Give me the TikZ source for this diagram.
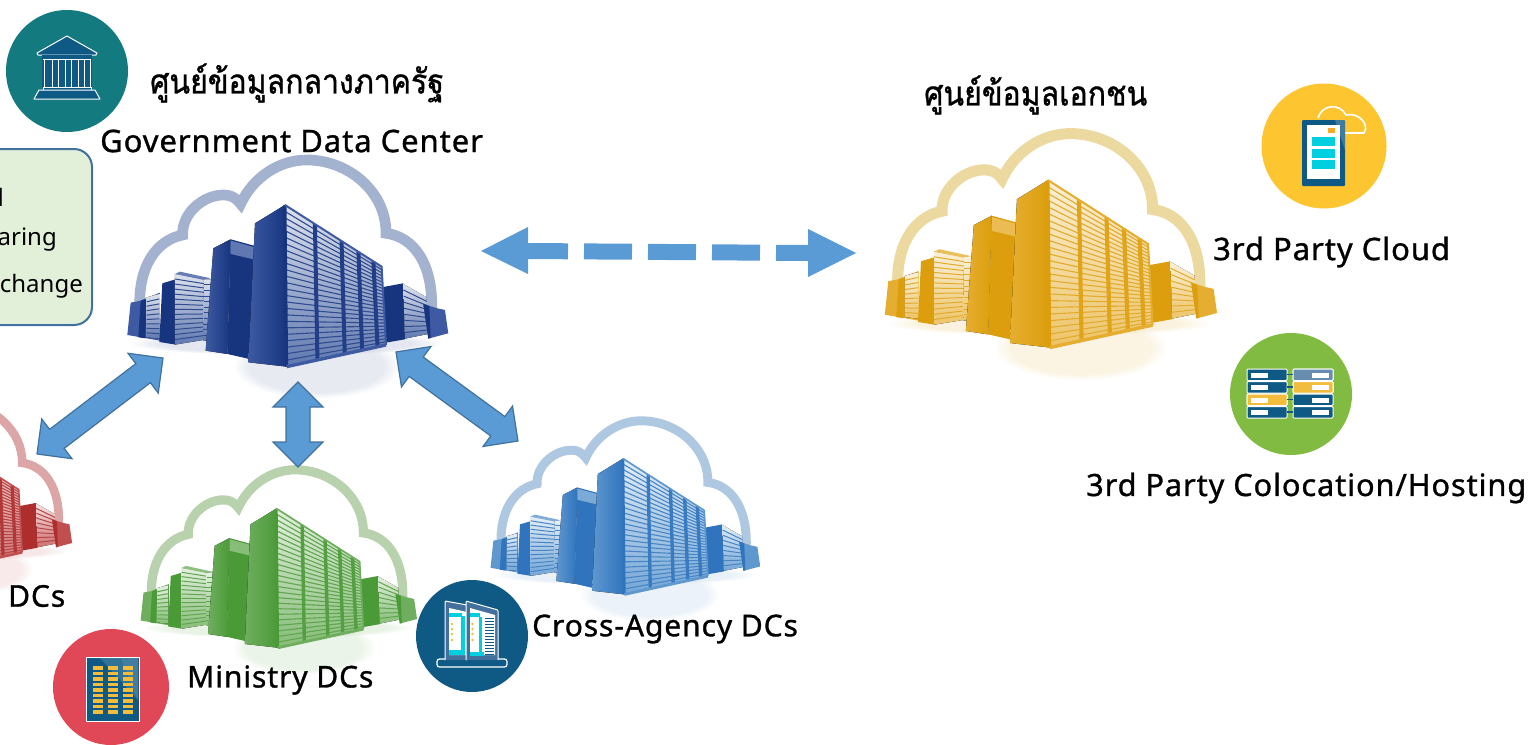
\documentclass[tikz,border=0pt]{standalone}
\usepackage{fontspec}
\usetikzlibrary{calc,fadings}
\setmainfont{Noto Sans}
\newfontfamily\thaifont[Script=Thai,FakeStretch=0.89,FakeBold=1]{Loma}
\newfontfamily\latinfont[FakeBold=1,LetterSpace=3]{Noto Sans}
\definecolor{arrowfill}{HTML}{5B9BD5}
\definecolor{arrowedge}{HTML}{41719C}
\definecolor{iconnavy}{HTML}{0E5A85}
\definecolor{iconyellow}{HTML}{F2BC3C}
\definecolor{iconcyan}{HTML}{00CFE0}
\definecolor{boxfill}{HTML}{E2EFD9}
\definecolor{gd}{HTML}{17347F}\definecolor{gm}{HTML}{3D5AA2}\definecolor{gl}{HTML}{C9D0E0}\definecolor{gr}{HTML}{A3B3CF}\definecolor{gf}{HTML}{5F78B0}
\definecolor{md}{HTML}{4A9A38}\definecolor{mm}{HTML}{6FAE5E}\definecolor{ml}{HTML}{D2E6CB}\definecolor{mr}{HTML}{B7D2AC}\definecolor{mf}{HTML}{86BD78}
\definecolor{cd}{HTML}{2F74BC}\definecolor{cm}{HTML}{5F97CF}\definecolor{cl}{HTML}{D2E2F1}\definecolor{cr}{HTML}{AFC8E1}\definecolor{cf}{HTML}{74A6D6}
\definecolor{od}{HTML}{DC9E0C}\definecolor{om}{HTML}{E6AE30}\definecolor{ol}{HTML}{F6E6BE}\definecolor{or}{HTML}{EBD9A0}\definecolor{of}{HTML}{EDC468}
\definecolor{rd}{HTML}{AE2D2D}\definecolor{rm}{HTML}{C04F4F}\definecolor{rl}{HTML}{EFD0D0}\definecolor{rr}{HTML}{DDA6A6}\definecolor{rf}{HTML}{CC7070}
\tikzset{
  lbl/.style={font=\latinfont\fontsize{#1}{#1}\selectfont,inner sep=0pt,text=black},
  boxtext/.style={font=\fontsize{24}{24}\selectfont,inner sep=0pt,text=black,anchor=east},
  thai/.style={font=\thaifont\fontsize{#1}{#1}\selectfont,inner sep=0pt,text=black},
  blockarrow/.style={fill=arrowfill,draw=arrowedge,line width=1.2pt,line join=miter},
  flatarrow/.style={fill=arrowfill,draw=none},
  dashshaft/.style={draw=arrowfill,line width=16pt,dash pattern=on 48pt off 16pt,dash phase=8pt},
  iconline/.style={draw=white,line width=1pt},
  badge/.style={circle,inner sep=0pt,minimum size=#1,draw=none},
}
\newcommand{\dblarrow}[2]{%
  \path ($(#1)!25pt!(#2)$) coordinate (na) ($(#2)!25pt!(#1)$) coordinate (nb);
  \draw[blockarrow] (#1)
    -- ($(na)!25pt!90:(#1)$) -- ($(na)!12pt!90:(#1)$)
    -- ($(nb)!12pt!-90:(#2)$) -- ($(nb)!25pt!-90:(#2)$)
    -- (#2)
    -- ($(nb)!25pt!90:(#2)$) -- ($(nb)!12pt!90:(#2)$)
    -- ($(na)!12pt!-90:(#1)$) -- ($(na)!25pt!-90:(#1)$) -- cycle;
}
\newcommand{\slatface}[6]{%
  \coordinate (sa) at #1; \coordinate (sb) at #2; \coordinate (sc) at #3; \coordinate (sd) at #4;
  \fill[top color=dcl!60!white,middle color=dcl!55!dcf,bottom color=dcf] (sa)--(sb)--(sc)--(sd)--cycle;
  \foreach \i in {1,...,#5}{
    \pgfmathsetmacro\tt{\i/(#5+1)}
    \draw[dcd!65!dcf,line width=#6pt] ($(sa)!\tt!(sd)$) -- ($(sb)!\tt!(sc)$);
  }
}
\newcommand{\datacenter}[8]{%
\colorlet{dcd}{#4}\colorlet{dcm}{#5}\colorlet{dcl}{#6}\colorlet{dcf}{#8}
\begin{scope}[shift={(#1,#2)},x=#3pt,y=-#3pt]
  \fill[dcl,opacity=.45,path fading=circle with fuzzy edge 20 percent] (950,1100) ellipse (250 and 95);
  \fill[dcl,opacity=.5,path fading=circle with fuzzy edge 20 percent] (860,1030) ellipse (470 and 36);
  \draw[draw=#7,line width=#3*32pt,line cap=butt]
    (420,930) .. controls (412,800) and (470,720) .. (548,705)
    .. controls (545,640) and (610,585) .. (670,585)
    .. controls (690,585) and (705,590) .. (722,612)
    .. controls (760,530) and (840,480) .. (920,480)
    .. controls (1050,480) and (1160,580) .. (1158,700)
    .. controls (1240,710) and (1300,790) .. (1295,930);
  \fill[dcm] (382,1005)--(392,908)--(418,903)--(480,878)--(480,1022)--cycle;
  \fill[dcd] (415,1012)--(422,903)--(440,897)--(436,1015)--cycle;
  \slatface{(440,892)}{(478,882)}{(478,1016)}{(440,1012)}{8}{1.0}
  \fill[dcd] (478,1026)--(487,850)--(527,838)--(527,1034)--cycle;
  \slatface{(525,822)}{(612,838)}{(610,1020)}{(525,1034)}{13}{1.0}
  \fill[dcm!70!dcl] (525,822)--(540,815)--(632,835)--(612,840)--cycle;
  \slatface{(612,838)}{(634,838)}{(626,1022)}{(610,1022)}{10}{0.8}
  \fill[dcd] (1145,862)--(1210,850)--(1215,1018)--(1158,1028)--cycle;
  \slatface{(1210,852)}{(1280,892)}{(1285,1002)}{(1215,1016)}{8}{1.0}
  \fill[dcm] (1270,912)--(1312,925)--(1335,930)--(1345,1000)--(1285,1016)--cycle;
  \fill[dcd] (1270,912)--(1288,918)--(1292,1014)--(1285,1016)--cycle;
  \fill[left color=dcm,right color=dcd] (617,1052)--(640,745)--(692,718)--(682,1062)--cycle;
  \fill[dcd] (692,718)--(765,738)--(752,1078)--(682,1062)--cycle;
  \fill[dcm!75!dcl] (692,722)--(764,742)--(760,778)--(692,762)--cycle;
  \fill[left color=dcm,right color=dcd] (745,1087)--(765,670)--(855,615)--(860,1100)--cycle;
  \slatface{(855,615)}{(1145,800)}{(1158,1035)}{(860,1100)}{24}{1.1}
  \coordinate (tl) at (855,615); \coordinate (tr) at (1145,800);
  \coordinate (bl) at (860,1100); \coordinate (br) at (1158,1035);
  \foreach \u in {0.31,0.585,0.76,0.915}{
    \draw[dcd!85!dcf,line width=#3*12pt] ($(tl)!\u!(tr)$) -- ($(bl)!\u!(br)$);
  }
  \draw[dcd,line width=#3*9pt] (tl) -- (bl);
  \draw[dcm,line width=#3*10pt] (bl) -- (br);
  \draw[dcm,line width=#3*6pt] (tl) -- (tr) -- (br);
\end{scope}
}
\begin{document}
\begin{tikzpicture}[x=1pt,y=-1pt]
\useasboundingbox (0,0) rectangle (1538,744);
\clip (0,0) rectangle (1538,744);
% data centres
\datacenter{0}{0}{0.3333}{gd}{gm}{gl}{gr}{gf}
\datacenter{753}{-32}{0.345}{od}{om}{ol}{or}{of}
\datacenter{31}{332}{0.287}{md}{mm}{ml}{mr}{mf}
\datacenter{383.6}{286.4}{0.28}{cd}{cm}{cl}{cr}{cf}
\datacenter{-287}{276}{0.267}{rd}{rm}{rl}{rr}{rf}
% block arrows
\coordinate (govred) at (163,358); \coordinate (redgov) at (37,454);
\coordinate (govmin) at (298,382); \coordinate (mingov) at (298,467);
\coordinate (govcross) at (396,352); \coordinate (crossgov) at (518,441);
\dblarrow{govred}{redgov}
\dblarrow{govmin}{mingov}
\dblarrow{govcross}{crossgov}
% dashed arrow
\coordinate (govneck) at (528,251); \coordinate (privneck) at (808,253);
\coordinate (govtip) at (481,251); \coordinate (privtip) at (856,253);
\draw[dashshaft] (govneck) -- (privneck);
\fill[flatarrow] (govtip) -- (528,227) -- (528,274) -- cycle;
\fill[flatarrow] (privtip) -- (808,229) -- (808,277) -- cycle;
% side box
\node[draw=arrowedge,fill=boxfill,line width=2pt,rounded corners=18pt,minimum width=192pt,minimum height=176pt,inner sep=0pt] (sidebox) at (-4,237) {};
\node[boxtext] (t1) at (4,197) {d};
\node[boxtext] (t2) at (57,240) {aring};
\node[boxtext] (t3) at (83,286) {change};
% government badge
\node[badge=122pt,fill={rgb,255:red,19;green,122;blue,127}] (govbadge) at (67,71) {};
\draw[iconline,fill=iconnavy,line join=round] (37,53) -- (67,36) -- (97,53) -- (96,55) -- (38,55) -- cycle;
\fill[iconnavy] (42,55) rectangle (92,88);
\foreach \cx in {44,52,58,65,71,78,84,90}{\draw[white,line width=.8pt] (\cx,59) -- (\cx,87);}
\draw[white,line width=.8pt] (43,59) -- (91,59);
\draw[iconline,fill=iconnavy] (43,87) rectangle (91,90);
\draw[iconline,fill=iconnavy,line join=round] (39,90) -- (95,90) -- (100,99) -- (34,99) -- cycle;
% red badge
\node[badge=116pt,fill={rgb,255:red,224;green,72;blue,88}] (minbadge) at (111,687) {};
\draw[iconline,fill=iconnavy] (86,657) rectangle (139,721);
\fill[white,opacity=.22] (87,658) -- (138,658) -- (138,700) -- (121,658) -- cycle;
\fill[white,opacity=.15] (87,658) -- (121,658) -- (138,700) -- (100,658) -- cycle;
\foreach \cx in {93,108,123}{\foreach \ry in {666,671.5,...,711}{\fill[iconyellow] (\cx,\ry) rectangle ++(10,3.8);}}
% navy badge
\node[badge=112pt,fill=iconnavy] (crossbadge) at (472,636) {};
\draw[iconline,rounded corners=2.5pt,line width=1.2pt] (437,659) rectangle (507,667);
\draw[draw=white,line width=1pt,fill=arrowedge,rounded corners=1pt] (445,660) -- (445,601) -- (467,605) -- (467,660);
\fill[white] (449,608) -- (467,612) -- (467,655) -- (449,655) -- cycle;
\fill[iconcyan] (449,613) rectangle (462,617);
\fill[iconcyan] (461,616) rectangle (465,651);
\fill[iconcyan] (449,650) rectangle (465,655);
\foreach \ry in {624,629,634,640}{\fill[iconyellow] (452,\ry) circle (1.4);}
\draw[draw=white,line width=1pt,fill=arrowedge,rounded corners=1pt] (466,660) -- (466,601) -- (498,610) -- (498,660);
\fill[white] (470,608) -- (495,615) -- (495,655) -- (470,655) -- cycle;
\fill[iconcyan] (470,613) rectangle (480,617);
\fill[iconcyan] (479,617) rectangle (482,652);
\fill[iconcyan] (470,652) rectangle (484,656);
\foreach \ry in {624,629,634,640}{\fill[iconyellow] (472.5,\ry) circle (1.4);}
\foreach \ry in {618,621,...,654}{\draw[iconnavy,line width=.7pt] (485,\ry) -- (494,\ry);}
% cloud badge
\node[badge=125pt,fill={rgb,255:red,253;green,197;blue,48}] (cloudbadge) at (1324,146) {};
\draw[white,line width=1.6pt,line join=round] (1318,118) .. controls (1322,104) and (1340,103) .. (1346,115) .. controls (1358,112) and (1370,124) .. (1364,133) -- (1345,133);
\fill[iconnavy,rounded corners=1pt] (1302,120) rectangle (1345,186);
\fill[white,opacity=.2] (1335,120) -- (1345,120) -- (1345,150) -- cycle;
\fill[white] (1307,125) rectangle (1340,179);
\foreach \ry in {137,148.5,160}{\fill[iconcyan] (1312,\ry) rectangle ++(23,9);}
\fill[iconyellow!70!orange] (1328,128) rectangle (1335,133);
% hosting badge
\node[badge=122pt,fill={rgb,255:red,130;green,187;blue,66}] (hostbadge) at (1291,394) {};
\foreach \rx/\wx in {1247/1251,1293/1312}{
  \foreach \ry in {369,381.5,394,406.5}{
    \draw[white,line width=1pt,fill=iconnavy,rounded corners=1pt] (\rx,\ry) rectangle ++(40,11.5);
    \fill[white] (\wx,\ry+3.5) rectangle ++(17,5);
  }
}
\draw[white,line width=1pt,fill=iconyellow,rounded corners=1pt] (1247,394) rectangle ++(40,11.5);
\fill[white] (1251,397.5) rectangle ++(17,5);
\draw[white,line width=1pt,fill=iconyellow,rounded corners=1pt] (1293,381.5) rectangle ++(40,11.5);
\fill[white] (1312,385) rectangle ++(17,5);
\draw[white,line width=1pt,fill=arrowedge!80!white,rounded corners=1pt] (1293,369) rectangle ++(40,11.5);
\fill[white] (1312,372.5) rectangle ++(17,5);
\foreach \ry in {374.5,387,399.5,412}{\draw[iconnavy,line width=1.5pt] (1287,\ry) -- (1293,\ry);}
% labels
\node[thai=34,anchor=west] (govth) at (150,83) {ศูนย์ข้อมูลกลางภาครัฐ};
\node[lbl=31,anchor=west] (goven) at (100,141) {Government Data Center};
\node[thai=34,anchor=west] (privth) at (924,95) {ศูนย์ข้อมูลเอกชน};
\node[lbl=31,anchor=west] (cloud) at (1213,252) {3rd Party Cloud};
\node[lbl=30.7,anchor=west] (host) at (1086,488) {3rd Party Colocation/Hosting};
\node[lbl=30,anchor=west] (redlbl) at (8,596) {DCs};
\node[lbl=30,anchor=west] (minlbl) at (187,680) {Ministry DCs};
\node[lbl=30,anchor=west] (crosslbl) at (532,629) {Cross-Agency DCs};
\end{tikzpicture}
\end{document}
